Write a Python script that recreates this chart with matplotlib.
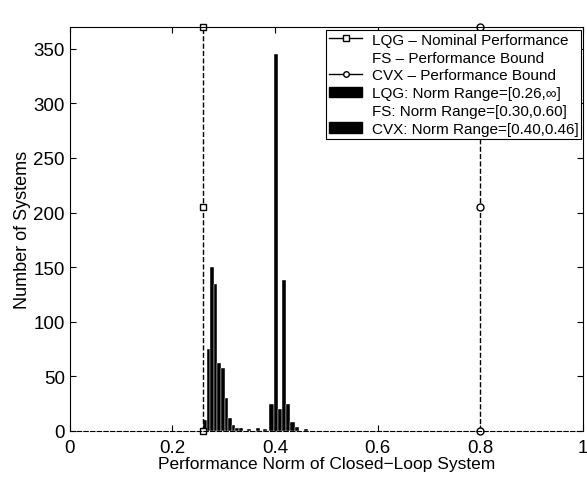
import matplotlib.pyplot as plt
from matplotlib.patches import Patch
from matplotlib.lines import Line2D

plt.rcParams['font.family'] = ['Liberation Sans', 'DejaVu Sans']

# histogram of closed-loop norms (bin centres / counts)
lqg_x = [0.263, 0.270, 0.277, 0.284, 0.291, 0.298, 0.305, 0.312, 0.319, 0.326]
lqg_n = [10, 75, 150, 135, 62, 58, 30, 12, 5, 3]
cvx_x = [0.334, 0.350, 0.366, 0.380, 0.393, 0.402, 0.410, 0.418, 0.426, 0.434, 0.442, 0.460]
cvx_n = [3, 2, 3, 2, 25, 345, 20, 138, 25, 8, 4, 2]
bin_w = 0.007

# performance bounds (vertical lines)
lqg_bound = 0.26
cvx_bound = 0.80
bound_y = [0, 205, 370]

fig = plt.figure(figsize=(5.87, 4.81), dpi=100)
ax = fig.add_axes([0.119, 0.102, 0.874, 0.84])

ax.bar(lqg_x, lqg_n, width=bin_w, color='black', edgecolor='white', linewidth=0.3)
ax.bar(cvx_x, cvx_n, width=0.008, color='black', edgecolor='white', linewidth=0.3)

ax.plot([lqg_bound] * 3, bound_y, '--', color='black', lw=1.0,
        marker='s', ms=5, mfc='white', mec='black', clip_on=False)
ax.plot([cvx_bound] * 3, bound_y, '--', color='black', lw=1.0,
        marker='o', ms=5, mfc='white', mec='black', clip_on=False)

ax.set_xlim(0, 1)
ax.set_ylim(0, 370)
ax.set_xticks([0, 0.2, 0.4, 0.6, 0.8, 1])
ax.set_xticklabels(['0', '0.2', '0.4', '0.6', '0.8', '1'])
ax.set_yticks(range(0, 351, 50))
ax.tick_params(direction='in', top=True, right=True, labelsize=13.5, length=4)
ax.tick_params(axis='x', pad=6)
ax.spines['bottom'].set_linestyle((0, (4, 2)))
ax.set_xlabel('Performance Norm of Closed\u2212Loop System', fontsize=12.5, labelpad=0)
ax.set_ylabel('Number of Systems', fontsize=13, labelpad=2)

handles = [
    Line2D([], [], color='black', lw=1, marker='s', ms=4, mfc='white'),
    Line2D([], [], color='none'),
    Line2D([], [], color='black', lw=1, marker='o', ms=4, mfc='white'),
    Patch(facecolor='black', edgecolor='black'),
    Patch(facecolor='white', edgecolor='white'),
    Patch(facecolor='black', edgecolor='black'),
]
labels = [
    'LQG \u2013 Nominal Performance',
    'FS \u2013 Performance Bound',
    'CVX \u2013 Performance Bound',
    'LQG: Norm Range=[0.26,\u221e]',
    'FS: Norm Range=[0.30,0.60]',
    'CVX: Norm Range=[0.40,0.46]',
]
leg = ax.legend(handles, labels, loc='upper right', bbox_to_anchor=(0.997, 0.993),
                fontsize=11, handlelength=2.2, handletextpad=0.6,
                labelspacing=0.25, borderpad=0.2, borderaxespad=0.0,
                fancybox=False, edgecolor='black', framealpha=1)
leg.get_frame().set_linewidth(0.8)

fig.savefig('out.png', dpi=100)
